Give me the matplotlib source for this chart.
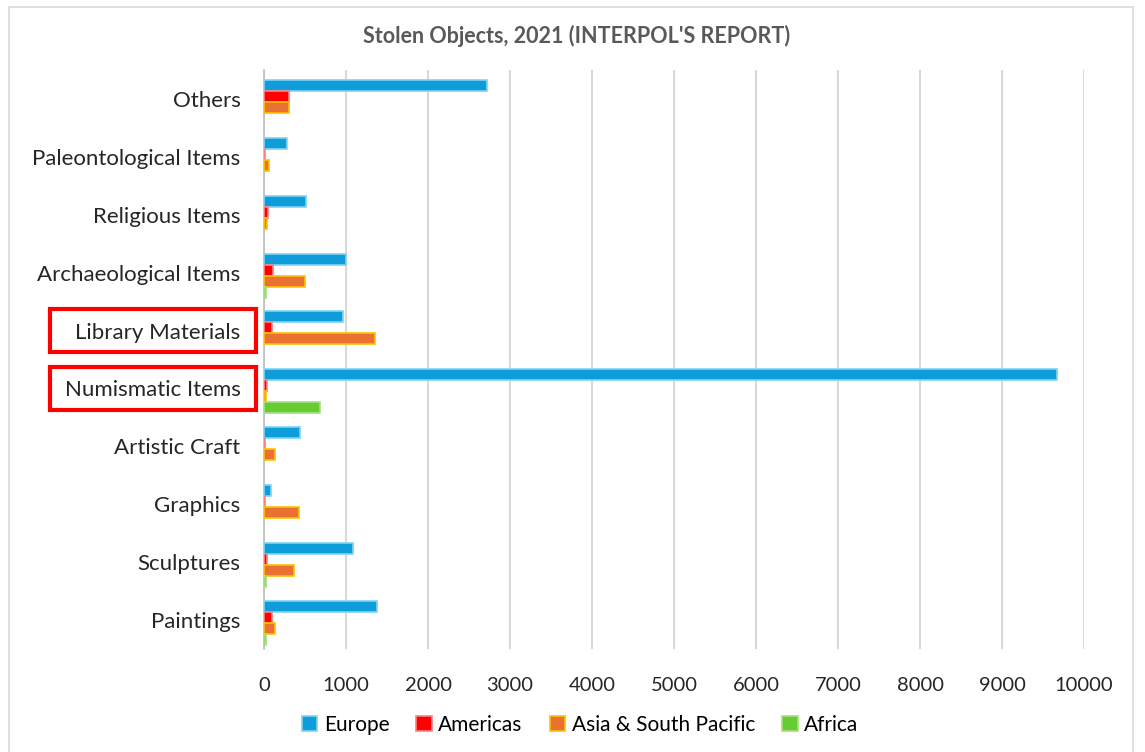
import numpy as np
import matplotlib
matplotlib.use("Agg")
import matplotlib.pyplot as plt
from matplotlib.patches import Rectangle

# ---- DATA

categories = ["Paintings", "Sculptures", "Graphics", "Artistic Craft",
              "Numismatic Items", "Library Materials", "Archaeological Items",
              "Religious Items", "Paleontological Items", "Others"]

europe   = [1380, 1090,  90, 440, 9670,  960, 1000, 510, 280, 2720]
americas = [ 100,   40,  10,  10,   40,  100,  110,  50,  10,  300]
asia     = [ 140,  360, 430, 140,   20, 1350,  500,  40,  60,  300]
africa   = [  20,   25,   0,   0,  680,    0,   25,   0,   0,    0]

series = ["Europe", "Americas", "Asia & South Pacific", "Africa"]
highlighted = ["Library Materials", "Numismatic Items"]

# ---- STYLE

plt.rcParams["font.family"] = ["Lato", "DejaVu Sans"]

fill = ["#0E9DD9", "#FF0000", "#E97132", "#66CC33"]
edge = ["#7FD3F5", "#FF8080", "#FFC000", "#A6E07F"]

fig = plt.figure(figsize=(11.45, 7.52), dpi=100)
ax = fig.add_axes([264 / 1145, 1 - 649 / 752, 820 / 1145, 579 / 752])

# chart border
fig.patches.append(Rectangle((9 / 1145, -0.01), 1124 / 1145, 1 - 7 / 752 + 0.01,
                             transform=fig.transFigure, fill=False,
                             edgecolor="#D9D9D9", linewidth=1.2))

# ---- BARS

y = np.arange(len(categories))
h = 0.19
offsets = [1.5 * h, 0.5 * h, -0.5 * h, -1.5 * h]
values = [europe, americas, asia, africa]

for vals, name, fc, ec, off in zip(values, series, fill, edge, offsets):
    lw = [1.2 if v > 0 else 0 for v in vals]
    ax.barh(y + off - 0.05, vals, height=h, color=fc, edgecolor=ec,
            linewidth=lw, label=name, zorder=3)

ax.set_xlim(0, 10000)
ax.set_ylim(-0.5, len(categories) - 0.5)
ax.set_xticks(np.arange(0, 10001, 1000))
ax.set_yticks(y)
ax.set_yticklabels(categories)
ax.tick_params(axis="both", length=0, colors="#262626")
ax.tick_params(axis="x", pad=20, labelsize=14.5)
ax.tick_params(axis="y", pad=17, labelsize=16)

ax.grid(axis="x", color="#D9D9D9", linewidth=1.5, zorder=0)
for side in ["top", "right", "bottom"]:
    ax.spines[side].set_visible(False)
ax.spines["left"].set_color("#BFBFBF")
ax.spines["left"].set_linewidth(1.2)

# ---- HIGHLIGHT BOXES

for name in highlighted:
    yc = categories.index(name)
    ypix = ax.transData.transform((0, yc))[1]
    box = Rectangle((50 / 1145, ypix / fig.bbox.height - 0.0285),
                    206 / 1145, 0.057, fill=False, edgecolor="#FF0000",
                    linewidth=3, transform=fig.transFigure)
    fig.patches.append(box)

# ---- TITLE AND LEGEND

fig.text(577 / 1145, 1 - 36 / 752, "Stolen Objects, 2021 (INTERPOL'S REPORT)",
         ha="center", va="center", fontsize=15.5, fontweight="bold",
         color="#595959")

ax.legend(loc="center", bbox_to_anchor=(580 / 1145, 1 - 725 / 752),
          bbox_transform=fig.transFigure, ncol=4, frameon=False,
          fontsize=15, handlelength=0.75, handleheight=0.75,
          handletextpad=0.3, columnspacing=1.3)

fig.savefig("out.png", dpi=100)
